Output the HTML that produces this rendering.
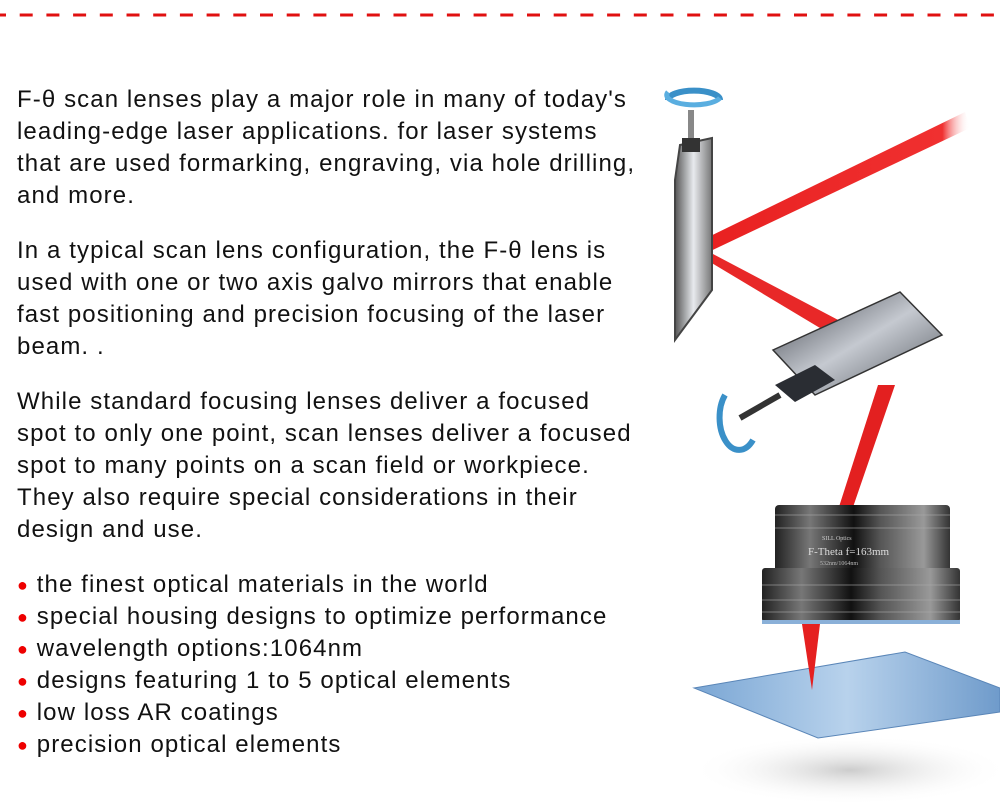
<!DOCTYPE html>
<html><head><meta charset="utf-8"><style>
body{margin:0;width:1000px;height:811px;background:#fff;overflow:hidden;position:relative;font-family:"Liberation Sans",Arial,sans-serif;}
.t{position:absolute;left:17px;font-size:24px;line-height:32px;color:#111;letter-spacing:1.1px;white-space:nowrap;}
.b{color:#e00;font-size:18px;line-height:32px;vertical-align:top;}
</style></head><body>
<svg width="1000" height="811" style="position:absolute;left:0;top:0">
<defs>
<linearGradient id="m1" x1="0" x2="1"><stop offset="0" stop-color="#555"/><stop offset=".5" stop-color="#e8eaee"/><stop offset="1" stop-color="#777"/></linearGradient>
<linearGradient id="m2" x1="0" y1="0" x2="1" y2="1"><stop offset="0" stop-color="#3c4048"/><stop offset=".5" stop-color="#c5c9d0"/><stop offset="1" stop-color="#50555c"/></linearGradient>
<linearGradient id="lens" x1="0" x2="1"><stop offset="0" stop-color="#222"/><stop offset=".2" stop-color="#777"/><stop offset=".45" stop-color="#111"/><stop offset=".6" stop-color="#555"/><stop offset=".85" stop-color="#999"/><stop offset="1" stop-color="#333"/></linearGradient>
<linearGradient id="pl" x1="0" x2="1"><stop offset="0" stop-color="#7aa6d4"/><stop offset=".5" stop-color="#b8d2ec"/><stop offset="1" stop-color="#6f9bcb"/></linearGradient>
<linearGradient id="beam" x1="1" x2="0"><stop offset="0" stop-color="#fff" stop-opacity="0"/><stop offset=".1" stop-color="#f03030"/><stop offset="1" stop-color="#e82020"/></linearGradient>
<radialGradient id="sh" cx=".5" cy=".5" r=".5"><stop offset="0" stop-color="#ccc"/><stop offset="1" stop-color="#fff" stop-opacity="0"/></radialGradient>
</defs>
<line x1="-7" y1="15" x2="1000" y2="15" stroke="#e01010" stroke-width="3" stroke-dasharray="13 13.7"/>
<ellipse cx="850" cy="770" rx="160" ry="35" fill="url(#sh)"/>
<polygon points="965,112 970,128 700,256 694,244" fill="url(#beam)"/>
<polygon points="694,244 700,256 840,340 842,322" fill="#e82828"/>
<polygon points="878,385 895,385 852,510 838,510" fill="#e32020"/>
<rect x="688" y="110" width="6" height="30" fill="#888"/>
<polygon points="680,145 712,138 712,290 675,340 675,180" fill="url(#m1)" stroke="#444" stroke-width="2"/>
<rect x="682" y="138" width="18" height="14" fill="#333"/>
<path d="M668,100 a25,9 0 1 1 52,0" fill="none" stroke="#3a90c8" stroke-width="6"/>
<path d="M668,92 a25,9 0 0 0 52,6" fill="none" stroke="#5aaee0" stroke-width="5"/>
<polygon points="773,350 900,292 942,335 815,395" fill="url(#m2)" stroke="#333" stroke-width="1.5"/>
<polygon points="775,385 815,365 835,380 795,402" fill="#2a2d33"/>
<line x1="740" y1="418" x2="780" y2="395" stroke="#333" stroke-width="6"/>
<path d="M725,395 a12,20 0 1 0 28,45" fill="none" stroke="#3a90c8" stroke-width="6"/>
<rect x="775" y="505" width="175" height="68" rx="4" fill="url(#lens)"/>
<rect x="762" y="568" width="198" height="54" rx="3" fill="url(#lens)"/>
<g stroke="#aaa" stroke-width="1" opacity=".6"><line x1="775" y1="515" x2="950" y2="515"/><line x1="775" y1="528" x2="950" y2="528"/><line x1="762" y1="585" x2="960" y2="585"/><line x1="762" y1="600" x2="960" y2="600"/><line x1="762" y1="612" x2="960" y2="612"/></g>
<text x="822" y="540" fill="#ccc" font-size="6" font-family="Liberation Serif">SILL Optics</text>
<text x="808" y="555" fill="#ddd" font-size="11" font-family="Liberation Serif">F-Theta f=163mm</text>
<text x="820" y="565" fill="#bbb" font-size="6" font-family="Liberation Serif">532nm/1064nm</text>
<rect x="762" y="620" width="198" height="4" fill="#8ab0d8"/>
<polygon points="694,688 905,652 1000,688 1000,712 818,738" fill="url(#pl)" stroke="#5a86b8"/>
<polygon points="802,624 820,624 812,690" fill="#e52020"/>
</svg>
<div class="t" style="top:84px">F-θ scan lenses play a major role in many of today's<br>leading-edge laser applications. for laser systems<br>that are used formarking, engraving, via hole drilling,<br>and more.</div>
<div class="t" style="top:235px">In a typical scan lens configuration, the F-θ lens is<br>used with one or two axis galvo mirrors that enable<br>fast positioning and precision focusing of the laser<br>beam. .</div>
<div class="t" style="top:386px">While standard focusing lenses deliver a focused<br>spot to only one point, scan lenses deliver a focused<br>spot to many points on a scan field or workpiece.<br>They also require special considerations in their<br>design and use.</div>
<div class="t" style="top:569px"><span class="b">●</span> the finest optical materials in the world<br><span class="b">●</span> special housing designs to optimize performance<br><span class="b">●</span> wavelength options:1064nm<br><span class="b">●</span> designs featuring 1 to 5 optical elements<br><span class="b">●</span> low loss AR coatings<br><span class="b">●</span> precision optical elements</div>
</body></html>
